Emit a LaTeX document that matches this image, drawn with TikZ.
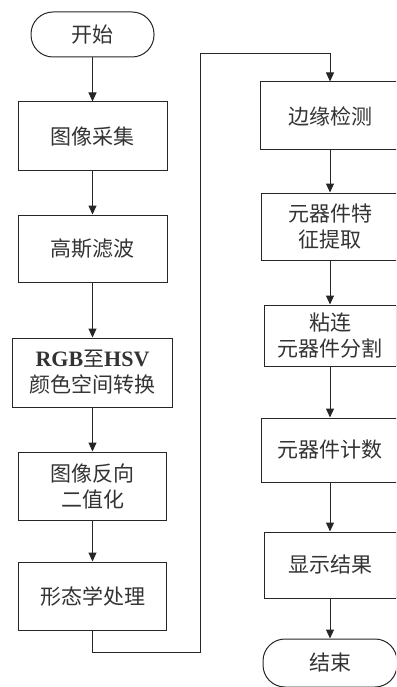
\documentclass[tikz,border=0pt]{standalone}
\usepackage{fontspec}
\setmainfont{Liberation Serif}
\newfontfamily\cjk{Noto Sans CJK SC}
\usetikzlibrary{arrows.meta}
\tikzset{
  stepbox/.style={draw=black!85, line width=1pt, text=black!80, align=center, inner sep=0pt,
    font=\cjk\fontsize{21}{26}\selectfont},
  termbox/.style={stepbox, rounded corners=22pt},
  flow/.style={draw=black!85, line width=1pt, -{Triangle[length=9pt,width=8pt]}},
}
\begin{document}
\begin{tikzpicture}[x=1pt,y=-1pt]
\useasboundingbox (0,0) rectangle (396,687);
\clip (0,0) rectangle (396,687);
% left column
\node[termbox, minimum width=123pt, minimum height=45pt] (start) at (92.5,34.5) {开始};
\node[stepbox, minimum width=149pt, minimum height=68pt] (b1) at (92.5,136) {图像采集};
\node[stepbox, minimum width=149pt, minimum height=67pt] (b2) at (92.5,248.5) {高斯滤波};
\node[stepbox, minimum width=160pt, minimum height=69pt] (b3) at (92.5,372.5) {{\rmfamily\bfseries\fontsize{22}{26}\selectfont RGB}至{\rmfamily\bfseries\fontsize{22}{26}\selectfont HSV}\\颜色空间转换};
\node[stepbox, minimum width=148pt, minimum height=68pt] (b4) at (92.5,486) {图像反向\\二值化};
\node[stepbox, minimum width=148pt, minimum height=68pt] (b5) at (92.5,596) {形态学处理};
% right column
\node[stepbox, minimum width=140pt, minimum height=68pt] (b6) at (330,116) {边缘检测};
\node[stepbox, minimum width=138pt, minimum height=67pt] (b7) at (330,226.5) {元器件特\\征提取};
\node[stepbox, minimum width=132pt, minimum height=61pt] (b8) at (330,335.5) {粘连\\元器件分割};
\node[stepbox, minimum width=138pt, minimum height=64pt] (b9) at (330,450) {元器件计数};
\node[stepbox, minimum width=132pt, minimum height=66pt] (b10) at (330,565) {显示结果};
\node[termbox, minimum width=134pt, minimum height=48pt] (end) at (330,663) {结束};
% connectors
\coordinate (c1) at (92.5,652);
\coordinate (c2) at (200,652);
\coordinate (c3) at (200,54);
\coordinate (c4) at (330,54);
\draw[flow] (start) -- (b1);
\draw[flow] (b1) -- (b2);
\draw[flow] (b2) -- (b3);
\draw[flow] (b3) -- (b4);
\draw[flow] (b4) -- (b5);
\draw[flow] (b5.south) -- (c1) -- (c2) -- (c3) -- (c4) -- (b6.north);
\draw[flow] (b6) -- (b7);
\draw[flow] (b7) -- (b8);
\draw[flow] (b8) -- (b9);
\draw[flow] (b9) -- (b10);
\draw[flow] (b10) -- (end);
\end{tikzpicture}
\end{document}
